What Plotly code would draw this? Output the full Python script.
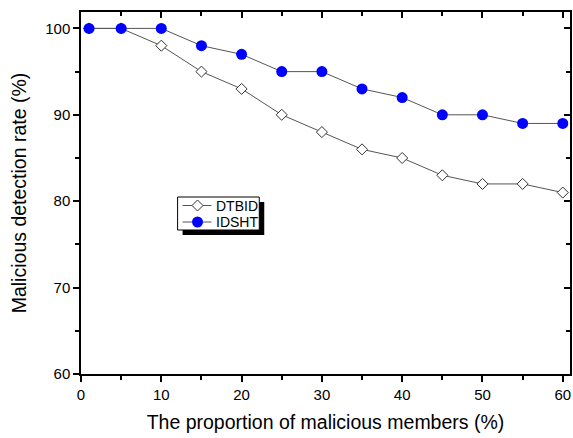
import plotly.graph_objects as go

proportion = [1, 5, 10, 15, 20, 25, 30, 35, 40, 45, 50, 55, 60]
dtbid = [100, 100, 98, 95, 93, 90, 88, 86, 85, 83, 82, 82, 81]
idsht = [100, 100, 100, 98, 97, 95, 95, 93, 92, 90, 90, 89, 89]
series_names = ["DTBID", "IDSHT"]

x_ticks = [0, 10, 20, 30, 40, 50, 60]
y_ticks = [60, 70, 80, 90, 100]

FONT = "Liberation Sans, Arial, sans-serif"
W, H = 573, 438
ML, MR, MT, MB = 81, 1, 12, 64
X_RANGE = [0, 60.9]
Y_RANGE = [60, 101.9]
LINE_COLOR = "#555555"
BLUE = "#0000ff"

fig = go.Figure()
fig.add_trace(go.Scatter(
    x=proportion, y=dtbid, name=series_names[0], mode="lines+markers",
    line=dict(color=LINE_COLOR, width=1),
    marker=dict(symbol="diamond", size=8.5, color="white",
                line=dict(color="#333333", width=1)),
))
fig.add_trace(go.Scatter(
    x=proportion, y=idsht, name=series_names[1], mode="lines+markers",
    line=dict(color=LINE_COLOR, width=1),
    marker=dict(symbol="circle", size=11, color=BLUE,
                line=dict(color=BLUE, width=0)),
))
# empty trace that carries the mirrored top/right axes
fig.add_trace(go.Scatter(x=[None], y=[None], xaxis="x2", yaxis="y2",
                         showlegend=False, hoverinfo="skip"))

axis_common = dict(showgrid=False, zeroline=False, linecolor="black", linewidth=1.5,
                   tickcolor="black", tickwidth=1.5,
                   tickfont=dict(family=FONT, size=15, color="black"))
mirror_common = dict(ticks="inside", ticklen=6, showticklabels=False, showgrid=False,
                     zeroline=False, showline=False, tickcolor="black", tickwidth=1.5)

fig.update_layout(
    width=W, height=H,
    margin=dict(l=ML, r=MR, t=MT, b=MB),
    paper_bgcolor="white", plot_bgcolor="white",
    font=dict(family=FONT, color="black"),
    showlegend=False,
    xaxis=dict(range=X_RANGE, tickvals=x_ticks, ticks="outside", ticklen=6,
               minor=dict(dtick=5, tick0=0, ticks="outside", ticklen=4, tickwidth=1.5, tickcolor="black"),
               mirror=True,
               title=dict(text="The proportion of malicious members (%)",
                          font=dict(family=FONT, size=19.5), standoff=14),
               **axis_common),
    yaxis=dict(range=Y_RANGE, tickvals=y_ticks, ticks="outside", ticklen=6,
               minor=dict(dtick=5, tick0=60, ticks="outside", ticklen=4, tickwidth=1.5, tickcolor="black"),
               mirror=True,
               title=dict(text="Malicious detection rate (%)",
                          font=dict(family=FONT, size=19.5), standoff=13),
               **axis_common),
    xaxis2=dict(range=X_RANGE, overlaying="x", side="top", tickvals=x_ticks,
                minor=dict(dtick=5, tick0=0, ticks="inside", ticklen=4, tickwidth=1.5, tickcolor="black"),
                **mirror_common),
    yaxis2=dict(range=Y_RANGE, overlaying="y", side="right", tickvals=y_ticks,
                minor=dict(dtick=5, tick0=60, ticks="inside", ticklen=4, tickwidth=1.5, tickcolor="black"),
                **mirror_common),
)

# ---- legend box with drop shadow, drawn in paper coordinates ----
PW, PH = W - ML - MR, H - MT - MB


def px(x):
    return (x - ML) / PW


def py(y):
    return (H - MB - y) / PH


box = (178, 197, 260, 230)
shadow_off = 5
fig.add_shape(type="rect", xref="paper", yref="paper",
              x0=px(box[0] + shadow_off), x1=px(box[2] + shadow_off),
              y0=py(box[3] + shadow_off), y1=py(box[1] + shadow_off),
              fillcolor="black", line=dict(width=0), layer="above")
fig.add_shape(type="rect", xref="paper", yref="paper",
              x0=px(box[0]), x1=px(box[2]), y0=py(box[3]), y1=py(box[1]),
              fillcolor="white", line=dict(color="black", width=1), layer="above")

rows = [205.5, 222]
for name, yc in zip(series_names, rows):
    fig.add_shape(type="line", xref="paper", yref="paper",
                  x0=px(183), x1=px(212), y0=py(yc), y1=py(yc),
                  line=dict(color=LINE_COLOR, width=1), layer="above")
    fig.add_annotation(x=px(215), y=py(yc), xref="paper", yref="paper",
                       text=name, showarrow=False, xanchor="left", yanchor="middle",
                       font=dict(family=FONT, size=14, color="black"))

# legend symbols
cx = 198
d = 5.5
yc = rows[0]
fig.add_shape(type="path", xref="paper", yref="paper",
              path=(f"M {px(cx - d)},{py(yc)} L {px(cx)},{py(yc - d)} "
                    f"L {px(cx + d)},{py(yc)} L {px(cx)},{py(yc + d)} Z"),
              fillcolor="white", line=dict(color="#333333", width=1), layer="above")
r = 5.5
yc = rows[1]
fig.add_shape(type="circle", xref="paper", yref="paper",
              x0=px(cx - r), x1=px(cx + r), y0=py(yc + r), y1=py(yc - r),
              fillcolor=BLUE, line=dict(color=BLUE, width=0), layer="above")

fig.write_html("out.html")
